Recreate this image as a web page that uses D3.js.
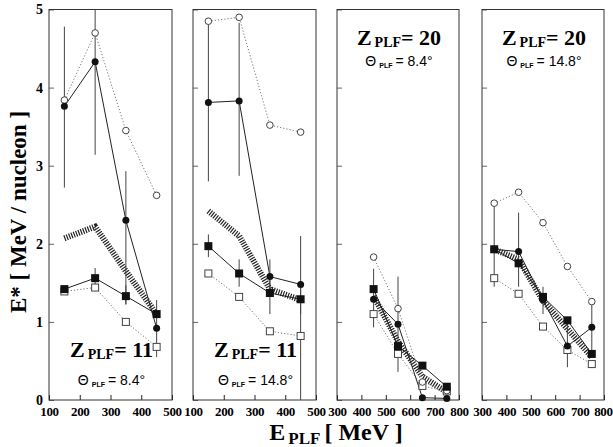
<!DOCTYPE html>
<html><head><meta charset="utf-8">
<script src="https://cdn.jsdelivr.net/npm/d3@7"></script>
<style>body{margin:0;background:#fff}svg{display:block}</style>
</head><body><div id="c"></div>
<script>
// ---- data ----
const e11 = [150, 250, 350, 450];
const e20a = [450, 550, 650, 750];
const e20b = [350, 450, 550, 650, 750];

const p1OpenCircle = [3.84, 4.70, 3.45, 2.62];
const p1FilledCircle = [3.76, 4.33, 2.30, 0.92];
const p1FilledCircleLo = [2.72, 3.14, 1.23, 0.55];
const p1FilledCircleHi = [4.78, 5.00, 2.93, 1.28];
const p1FilledSquare = [1.42, 1.56, 1.33, 1.10];
const p1FilledSquareLo = [1.42, 1.44, 1.22, 1.10];
const p1FilledSquareHi = [1.42, 1.69, 1.47, 1.10];
const p1OpenSquare = [1.39, 1.44, 1.00, 0.68];
const p1Band = [2.07, 2.22, 1.65, 1.10];

const p2OpenCircle = [4.85, 4.90, 3.52, 3.43];
const p2FilledCircle = [3.81, 3.83, 1.58, 1.48];
const p2FilledCircleLo = [2.80, 2.87, 1.35, 0.00];
const p2FilledCircleHi = [4.88, 4.83, 1.80, 2.10];
const p2FilledSquare = [1.97, 1.62, 1.37, 1.29];
const p2FilledSquareLo = [1.83, 1.45, 1.10, 1.10];
const p2FilledSquareHi = [2.12, 1.80, 1.60, 1.50];
const p2OpenSquare = [1.62, 1.32, 0.88, 0.82];
const p2Band = [2.42, 2.10, 1.42, 1.28];

const p3OpenCircle = [1.83, 1.17, 0.23, 0.12];
const p3FilledCircle = [1.29, 0.97, 0.03, 0.02];
const p3FilledCircleLo = [0.93, 0.36, 0.03, 0.02];
const p3FilledCircleHi = [1.68, 1.58, 0.03, 0.02];
const p3FilledSquare = [1.42, 0.69, 0.44, 0.17];
const p3OpenSquare = [1.10, 0.59, 0.18, 0.11];
const p3Band = [1.33, 0.75, 0.30, 0.10];

const p4OpenCircle = [2.52, 2.66, 2.27, 1.71, 1.26];
const p4FilledCircle = [1.93, 1.90, 1.28, 0.69, 0.93];
const p4FilledCircleLo = [1.45, 1.45, 1.10, 0.42, 0.58];
const p4FilledCircleHi = [2.50, 2.40, 1.45, 0.99, 1.26];
const p4FilledSquare = [1.93, 1.75, 1.32, 1.02, 0.59];
const p4OpenSquare = [1.56, 1.36, 0.94, 0.64, 0.46];
const p4Band = [1.93, 1.80, 1.27, 0.91, 0.55];

const ticks11 = [100, 200, 300, 400, 500];
const ticks20 = [300, 400, 500, 600, 700, 800];
const yTicks = [0, 1, 2, 3, 4, 5];
const panelZ = ["11", "11", "20", "20"];
const panelTheta = ["8.4°", "14.8°", "8.4°", "14.8°"];

// ---- layout ----
const W = 613, H = 447;
const svg = d3.select("#c").append("svg").attr("width", W).attr("height", H)
  .style("font-family", "'Liberation Serif', 'Times New Roman', serif");

const yTop = 9.5, yBot = 400;
const y = d3.scaleLinear().domain([0, 5]).range([yBot, yTop]);

const panels = [
  {x0: 49, x1: 172, dom: [100, 500], ticks: ticks11, e: e11,
   oc: p1OpenCircle, fc: p1FilledCircle, fcLo: p1FilledCircleLo, fcHi: p1FilledCircleHi,
   fs: p1FilledSquare, fsLo: p1FilledSquareLo, fsHi: p1FilledSquareHi, os: p1OpenSquare, band: p1Band, labelY: [357, 385]},
  {x0: 193, x1: 316, dom: [100, 500], ticks: ticks11, e: e11,
   oc: p2OpenCircle, fc: p2FilledCircle, fcLo: p2FilledCircleLo, fcHi: p2FilledCircleHi,
   fs: p2FilledSquare, fsLo: p2FilledSquareLo, fsHi: p2FilledSquareHi, os: p2OpenSquare, band: p2Band, labelY: [357, 385]},
  {x0: 337, x1: 459, dom: [300, 800], ticks: ticks20, e: e20a,
   oc: p3OpenCircle, fc: p3FilledCircle, fcLo: p3FilledCircleLo, fcHi: p3FilledCircleHi,
   fs: p3FilledSquare, fsLo: p3FilledSquare, fsHi: p3FilledSquare, os: p3OpenSquare, band: p3Band, labelY: [45, 66]},
  {x0: 482, x1: 604, dom: [300, 800], ticks: ticks20, e: e20b,
   oc: p4OpenCircle, fc: p4FilledCircle, fcLo: p4FilledCircleLo, fcHi: p4FilledCircleHi,
   fs: p4FilledSquare, fsLo: p4FilledSquare, fsHi: p4FilledSquare, os: p4OpenSquare, band: p4Band, labelY: [45, 66]}
];

panels.forEach((p, i) => {
  const x = d3.scaleLinear().domain(p.dom).range([p.x0, p.x1]);
  const g = svg.append("g");

  // x axis
  const xa = g.append("g").attr("transform", `translate(0,${yBot})`)
    .call(d3.axisBottom(x).tickValues(p.ticks).tickSize(-5).tickPadding(7).tickFormat(d3.format("d")));
  xa.select(".domain").remove();
  xa.selectAll("line").attr("stroke", "#222");
  xa.selectAll("text").attr("font-size", 13).attr("font-weight", "bold").attr("fill", "#000")
    .attr("letter-spacing", -0.4).attr("font-family", "'Liberation Serif', serif");
  if (i === 3) xa.selectAll(".tick").filter(d => d === 800).select("text").attr("text-anchor", "end").attr("dx", 8);

  // y axis ticks
  const ya = g.append("g").attr("transform", `translate(${p.x0},0)`)
    .call(d3.axisLeft(y).tickValues(yTicks).tickSize(-5).tickPadding(6)
      .tickFormat(i === 0 ? d3.format("d") : () => ""));
  ya.select(".domain").remove();
  ya.selectAll("line").attr("stroke", "#666");
  ya.selectAll("text").attr("font-size", 14).attr("font-weight", "bold").attr("fill", "#000")
    .attr("font-family", "'Liberation Serif', serif");

  // frame
  g.append("rect").attr("x", p.x0).attr("y", yTop).attr("width", p.x1 - p.x0).attr("height", yBot - yTop)
    .attr("fill", "none").attr("stroke", "#333").attr("stroke-width", 1);

  const line = d3.line().x((d, j) => x(p.e[j])).y(d => y(d));

  // band (hatched thick line)
  g.append("path").attr("d", line(p.band)).attr("fill", "none")
    .attr("stroke", "#222").attr("stroke-width", 6).attr("stroke-dasharray", "1.2,1.3");

  // dotted lines for open markers
  g.append("path").attr("d", line(p.oc)).attr("fill", "none")
    .attr("stroke", "#777").attr("stroke-width", 1).attr("stroke-dasharray", "1.2,2");
  g.append("path").attr("d", line(p.os)).attr("fill", "none")
    .attr("stroke", "#777").attr("stroke-width", 1).attr("stroke-dasharray", "1.2,2");
  // solid lines for filled markers
  g.append("path").attr("d", line(p.fc)).attr("fill", "none").attr("stroke", "#222").attr("stroke-width", 1);
  g.append("path").attr("d", line(p.fs)).attr("fill", "none").attr("stroke", "#222").attr("stroke-width", 1);

  // error bars
  p.e.forEach((e, j) => {
    if (p.fcHi[j] !== p.fcLo[j])
      g.append("line").attr("x1", x(e)).attr("x2", x(e)).attr("y1", y(p.fcLo[j])).attr("y2", y(p.fcHi[j]))
        .attr("stroke", "#444").attr("stroke-width", 1);
    if (p.fsHi[j] !== p.fsLo[j])
      g.append("line").attr("x1", x(e)).attr("x2", x(e)).attr("y1", y(p.fsLo[j])).attr("y2", y(p.fsHi[j]))
        .attr("stroke", "#444").attr("stroke-width", 1);
  });

  // markers
  g.selectAll(".os").data(p.os).join("rect")
    .attr("x", (d, j) => x(p.e[j]) - 3.5).attr("y", d => y(d) - 3.5).attr("width", 7).attr("height", 7)
    .attr("fill", "#fff").attr("stroke", "#444").attr("stroke-width", 1);
  g.selectAll(".oc").data(p.oc).join("circle")
    .attr("cx", (d, j) => x(p.e[j])).attr("cy", d => y(d)).attr("r", 3.3)
    .attr("fill", "#fff").attr("stroke", "#444").attr("stroke-width", 1);
  g.selectAll(".fs").data(p.fs).join("rect")
    .attr("x", (d, j) => x(p.e[j]) - 4).attr("y", d => y(d) - 4).attr("width", 8).attr("height", 8)
    .attr("fill", "#111");
  g.selectAll(".fc").data(p.fc).join("circle")
    .attr("cx", (d, j) => x(p.e[j])).attr("cy", d => y(d)).attr("r", 3.5)
    .attr("fill", "#111");

  // annotation
  const cx = (p.x0 + p.x1) / 2 + 1;
  const t1 = g.append("text").attr("x", cx).attr("y", p.labelY[0]).attr("text-anchor", "middle")
    .attr("font-weight", "bold").attr("font-size", 22).attr("font-family", "'Liberation Serif', serif");
  t1.append("tspan").text("Z");
  t1.append("tspan").attr("font-size", 14).attr("dx", 3).attr("dy", 2).text("PLF");
  t1.append("tspan").attr("dy", -2).text("= " + panelZ[i]);
  const t2 = g.append("text").attr("x", cx).attr("y", p.labelY[1]).attr("text-anchor", "middle")
    .attr("font-size", 14).attr("font-family", "'Liberation Sans', Arial, sans-serif");
  t2.append("tspan").text("Θ");
  t2.append("tspan").attr("font-size", 7).attr("font-weight", "bold").attr("dx", 3).attr("dy", 2).text("PLF");
  t2.append("tspan").attr("dx", 3).attr("dy", -2).text("= " + panelTheta[i]);
});

// axis titles
const xt = svg.append("text").attr("x", 336).attr("y", 440).attr("text-anchor", "middle")
  .attr("font-weight", "bold").attr("font-size", 24);
xt.append("tspan").text("E");
xt.append("tspan").attr("font-size", 17).attr("dx", 3).attr("dy", 4).text("PLF");
xt.append("tspan").attr("dx", 4).attr("dy", -4).text("[ MeV ]");

svg.append("text").attr("transform", "translate(26,212) rotate(-90)").attr("text-anchor", "middle")
  .attr("font-weight", "bold").attr("font-size", 23).text("E*  [ MeV / nucleon ]");
</script>
</body></html>
